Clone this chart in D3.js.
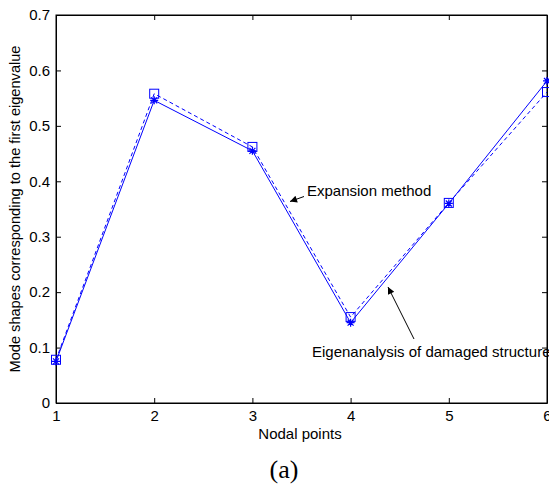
<!DOCTYPE html>
<html>
<head>
<meta charset="utf-8">
<script src="https://cdn.jsdelivr.net/npm/d3@7"></script>
<style>
  body { margin: 0; background: #fff; }
  svg { display: block; }
</style>
</head>
<body>
<svg id="chart"></svg>
<script>
// node numbers and mode shape values
var nodes = [1, 2, 3, 4, 5, 6];
var expansion = [0.078, 0.558, 0.462, 0.155, 0.361, 0.561];
var eigenanalysis = [0.075, 0.546, 0.455, 0.145, 0.360, 0.581];
var yTicks = [0, 0.1, 0.2, 0.3, 0.4, 0.5, 0.6, 0.7];

var width = 549, height = 486;
var margin = { left: 56, right: 2, top: 15, bottom: 83 };
var font = "Arial, 'Liberation Sans', sans-serif";

var svg = d3.select("#chart")
  .attr("width", width)
  .attr("height", height)
  .style("font-family", font);

var x = d3.scaleLinear().domain([1, 6]).range([margin.left, width - margin.right]);
var y = d3.scaleLinear().domain([0, 0.7]).range([height - margin.bottom, margin.top]);

// box
svg.append("rect")
  .attr("x", x(1)).attr("y", y(0.7))
  .attr("width", x(6) - x(1)).attr("height", y(0) - y(0.7))
  .attr("fill", "none").attr("stroke", "#000").attr("stroke-width", 1);

// axes with inward ticks, matlab style
svg.append("g")
  .attr("transform", "translate(0," + y(0) + ")")
  .call(d3.axisBottom(x).tickValues(nodes).tickFormat(d3.format("d")).tickSizeInner(-5).tickSizeOuter(0).tickPadding(7));
svg.append("g")
  .attr("transform", "translate(" + x(1) + ",0)")
  .call(d3.axisLeft(y).tickValues(yTicks).tickFormat(d => d === 0 ? "0" : d3.format(".1f")(d)).tickSizeInner(-5).tickSizeOuter(0).tickPadding(6));
svg.append("g")
  .attr("transform", "translate(0," + y(0.7) + ")")
  .call(d3.axisTop(x).tickValues(nodes).tickFormat("").tickSizeInner(-5).tickSizeOuter(0));
svg.append("g")
  .attr("transform", "translate(" + x(6) + ",0)")
  .call(d3.axisRight(y).tickValues(yTicks).tickFormat("").tickSizeInner(-5).tickSizeOuter(0));

svg.selectAll(".domain").attr("stroke", "#000");
svg.selectAll(".tick line").attr("stroke", "#000");
svg.selectAll(".tick text")
  .attr("fill", "#000")
  .style("font-size", "15px")
  .style("font-family", font);

// lines
var line = d3.line().x((d, i) => x(nodes[i])).y(d => y(d));

svg.append("path")
  .datum(expansion)
  .attr("d", line)
  .attr("fill", "none")
  .attr("stroke", "#0000ff")
  .attr("stroke-width", 1)
  .attr("stroke-dasharray", "4,3");

svg.append("path")
  .datum(eigenanalysis)
  .attr("d", line)
  .attr("fill", "none")
  .attr("stroke", "#0000ff")
  .attr("stroke-width", 1);

// square markers
svg.append("g")
  .selectAll("rect")
  .data(expansion)
  .join("rect")
  .attr("x", (d, i) => x(nodes[i]) - 4.5)
  .attr("y", d => y(d) - 4.5)
  .attr("width", 9)
  .attr("height", 9)
  .attr("fill", "none")
  .attr("stroke", "#0000ff")
  .attr("stroke-width", 1);

// star markers
var star = svg.append("g")
  .selectAll("g")
  .data(eigenanalysis)
  .join("g")
  .attr("transform", (d, i) => "translate(" + x(nodes[i]) + "," + y(d) + ")");
star.append("path")
  .attr("d", "M-4,0H4M0,-4V4M-3,-3L3,3M-3,3L3,-3")
  .attr("stroke", "#0000ff")
  .attr("stroke-width", 1.2);

// annotations
svg.append("defs").append("marker")
  .attr("id", "head")
  .attr("viewBox", "0 0 10 10")
  .attr("refX", 10).attr("refY", 5)
  .attr("markerWidth", 10).attr("markerHeight", 7)
  .attr("markerUnits", "userSpaceOnUse")
  .attr("orient", "auto")
  .append("path")
  .attr("d", "M0,0L10,5L0,10Z")
  .attr("fill", "#000");

svg.append("line")
  .attr("x1", 304).attr("y1", 196.5)
  .attr("x2", 290).attr("y2", 201.5)
  .attr("stroke", "#000").attr("stroke-width", 1)
  .attr("marker-end", "url(#head)");
svg.append("text")
  .attr("x", 307).attr("y", 195.5)
  .style("font-size", "15px")
  .text("Expansion method");

svg.append("line")
  .attr("x1", 414).attr("y1", 339)
  .attr("x2", 388).attr("y2", 287)
  .attr("stroke", "#000").attr("stroke-width", 1)
  .attr("marker-end", "url(#head)");
svg.append("text")
  .attr("x", 312).attr("y", 356.5)
  .style("font-size", "15px")
  .text("Eigenanalysis of damaged structure");

// axis titles
svg.append("text")
  .attr("x", 300)
  .attr("y", 438.5)
  .attr("text-anchor", "middle")
  .style("font-size", "15px")
  .text("Nodal points");

svg.append("text")
  .attr("transform", "translate(20," + ((y(0) + y(0.7)) / 2) + ") rotate(-90)")
  .attr("text-anchor", "middle")
  .style("font-size", "14.6px")
  .text("Mode shapes corresponding to the first eigenvalue");

svg.append("text")
  .attr("x", 284)
  .attr("y", 478)
  .attr("text-anchor", "middle")
  .style("font-family", "'Times New Roman', 'Liberation Serif', serif")
  .style("font-size", "26px")
  .text("(a)");
</script>
</body>
</html>
